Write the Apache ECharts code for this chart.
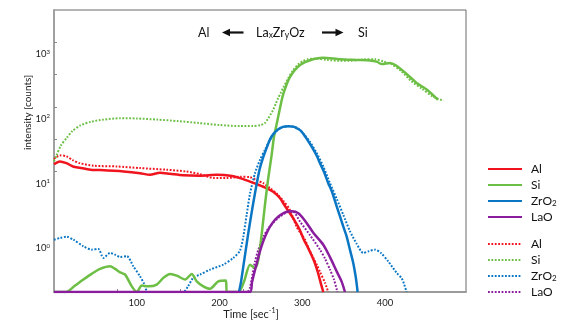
<!DOCTYPE html>
<html><head><meta charset="utf-8">
<script src="https://cdn.jsdelivr.net/npm/echarts@6/dist/echarts.min.js"></script>
<style>html,body{margin:0;padding:0;background:#fff}#c{width:567px;height:322px}</style>
</head><body><div id="c"></div>
<script>
// ---- data (time [s], intensity [counts]) ----
const elements = ['Al', 'Si', 'ZrO2', 'LaO'];
const xLabelValues = [100, 200, 300, 400];
const xTickValues = [76.6, 152.3, 228.5];
const yLabelValues = [1, 10, 100, 1000];
const yTickValues = [15.3, 48.4, 153, 484, 1530];

const alSolid = [[0,19.8],[7,21.9],[15,20.6],[23,18.3],[31,17.5],[44,16.3],[56,16.1],[84,15.3],[104,14.4],[116,13.6],[128,14.6],[140,14.1],[156,13.4],[176,13.2],[197,13.6],[213,13.2],[225,12.1],[237,10.7],[247,9.55],[257,8.43],[265,7.44],[273,5.95],[279,4.53],[285,3.49],[291,2.65],[297,1.93],[302,1.35],[307,1.02],[312,0.74],[315.5,0.58],[319,0.42],[322.7,0.28],[325.5,0.21]];
const siSolid = [[0,0.21],[14.6,0.21],[25.5,0.264],[35.5,0.327],[46,0.404],[55.7,0.478],[67.8,0.524],[73.8,0.478],[79.9,0.423],[86,0.39],[94,0.257],[100,0.21],[106.1,0.264],[114.1,0.257],[124.2,0.273],[132.2,0.347],[140.3,0.4],[148.4,0.376],[158.4,0.327],[166.5,0.4],[172.5,0.307],[180.5,0.257],[188.6,0.235],[198.6,0.307],[207.9,0.315],[208.8,0.21],[222.8,0.21],[229.7,0.304],[236.9,0.556],[243,0.495],[247,0.665],[251.4,1.8],[255,4.69],[258.7,11.4],[263.1,27.7],[265.9,52.6],[269.2,83.4],[273.2,147],[277.2,242],[285.3,443],[297.4,679],[313,832],[325.1,880],[345.6,832],[366.2,811],[382,796],[390,763],[396.4,700],[406.1,729],[413,670],[426.2,493],[438.3,358],[452,274],[464.1,196]];
const zrSolid = [[223.6,0.21],[226.1,0.304],[228.8,0.519],[231.5,0.883],[234.9,1.72],[237.5,2.76],[240.9,5.04],[244.8,9.55],[248.4,16.3],[253,25.8],[257.5,36.8],[261.1,48.1],[265.3,58.5],[271.1,68.6],[276.8,75],[283.2,76.9],[289.2,75.5],[293.7,71.1],[298.5,65.1],[303.4,53.5],[308.2,43.2],[313.4,33.7],[317.9,26.3],[321.5,20.6],[326.3,15.2],[331.5,10.1],[336,7.45],[341.7,4.42],[345.7,3.1],[349.6,2.17],[353.7,1.52],[357.7,0.948],[361.7,0.591],[364.6,0.367],[365.8,0.283],[367,0.21]];
const laSolid = [[0,0.21],[236.9,0.21],[239.3,0.294],[241.8,0.404],[245,0.576],[249,0.899],[253.2,1.31],[257.1,1.72],[261.1,2.15],[267.1,2.75],[273.2,3.23],[281.3,3.66],[287.7,3.72],[295.3,3.47],[303.4,2.66],[313.4,1.73],[325.5,1.13],[333.6,0.726],[341.7,0.438],[347.7,0.304],[351.7,0.21]];

const alDotted = [[0,24],[7,27.2],[15,26.3],[23,22.8],[31,20.6],[48,18.8],[76,18.3],[104,17.3],[136,16.3],[160,15.3],[177,13.9],[193,12.1],[209,12.1],[225,12.7],[237,12.5],[245,11.2],[253,10.1],[261,8.49],[270,6.81],[277,5.41],[285,3.93],[293,2.17],[298.5,1.67],[303.4,1.35],[308,0.98],[313.4,0.71],[318,0.54],[321.5,0.43],[327.6,0.29],[331.5,0.21]];
const siDotted = [[0,22],[3,27],[8,38],[15,50],[22,64],[32,79],[45,90],[60,97],[80,102],[100,101],[125,97],[150,92],[175,86],[200,80],[225,77],[240,77],[250,80],[255,86],[259,102],[262,118],[265,138],[268,170],[271,210],[274,250],[277,300],[283,420],[289,560],[295,690],[301,780],[307,830],[316,850],[330,815],[345,785],[360,790],[375,830],[388,835],[398,770],[408,700],[420,540],[432,380],[445,290],[458,220],[471,190]];
const zrDotted = [[0,1.35],[7.4,1.44],[15.5,1.5],[23.4,1.35],[35.5,1.07],[45.7,0.948],[53.6,0.972],[59.7,0.706],[67.8,0.843],[73.8,0.794],[79.9,0.732],[88,0.753],[95.9,0.524],[104,0.367],[108.9,0.283],[113.7,0.21],[156.3,0.21],[162,0.257],[168.4,0.351],[176.5,0.39],[188.6,0.466],[204.7,0.556],[216.7,0.706],[224.8,0.915],[228.8,1.5],[232.9,3.29],[236.9,6.93],[243,14.5],[249,23.2],[255,33.1],[261.1,47.2],[269.2,65.1],[276.8,75],[285.3,76.4],[293.7,72.4],[301.3,59.5],[309.4,44],[317.5,29.5],[325.5,18.3],[333.6,10.1],[341.7,5.81],[349.6,3.29],[357.7,1.83],[365.8,1.17],[373.8,0.843],[380.7,0.899],[387.9,0.948],[395.2,0.843],[404,0.625],[414.2,0.414],[420.2,0.344],[423,0.283],[426.2,0.21]];
const laDotted = [[0,0.21],[233.4,0.21],[236.9,0.246],[239.9,0.39],[243,0.619],[247,0.948],[253,1.5],[261.1,2.19],[271.1,2.92],[281.3,3.59],[288.9,3.66],[297.4,2.56],[309.4,1.59],[321.5,0.948],[327.6,0.689],[333.6,0.466],[338.4,0.327],[342.6,0.21]];

const colors = {Al: '#f0141e', Si: '#6cbf44', ZrO2: '#0a76c4', LaO: '#8a1c9e'};
const solidData = {Al: alSolid, Si: siSolid, ZrO2: zrSolid, LaO: laSolid};
const dottedData = {Al: alDotted, Si: siDotted, ZrO2: zrDotted, LaO: laDotted};

const FONT = 'Lato, "Open Sans", sans-serif';
const dottedName = n => n + ' ';

const series = [];
elements.forEach(n => series.push({
  name: dottedName(n), type: 'line', data: dottedData[n], symbol: 'none', smooth: 0.25,
  lineStyle: {color: colors[n], width: 2, type: [1.8, 1.6]}, itemStyle: {color: colors[n]}
}));
elements.forEach(n => series.push({
  name: n, type: 'line', data: solidData[n], symbol: 'none', smooth: 0.25,
  lineStyle: {color: colors[n], width: 2.5}, itemStyle: {color: colors[n]}
}));

const legendText = {
  color: '#111', fontSize: 12, fontFamily: FONT, padding: [0, 0, 0, 4],
  rich: {sub: {fontSize: 8, fontFamily: FONT, verticalAlign: 'bottom', color: '#111'}}
};
const legendFmt = name => { const t = name.trim(); return t === 'ZrO2' ? 'ZrO{sub|2}' : t; };
const legendBase = {orient: 'vertical', left: 482, itemWidth: 34, itemHeight: 12, itemGap: 4,
  selectedMode: false, textStyle: legendText, formatter: legendFmt,
  itemStyle: {opacity: 0, borderWidth: 0}};

const chart = echarts.init(document.getElementById('c'), null, {renderer: 'canvas'});
chart.setOption({
  animation: false,
  backgroundColor: '#fff',
  grid: {left: 54, right: 101, top: 10, bottom: 30, show: true, borderColor: '#6a6a6a', borderWidth: 1},
  xAxis: {
    type: 'value', min: 0, max: 498,
    axisLine: {show: true, lineStyle: {color: '#9a9a9a', width: 2}},
    axisTick: {show: true, inside: true, length: 3, lineStyle: {color: '#888'}, customValues: xTickValues},
    axisLabel: {customValues: xLabelValues, color: '#222', fontSize: 9.5, fontFamily: FONT, margin: 6},
    splitLine: {show: false}
  },
  yAxis: {
    type: 'log', logBase: 10, min: 0.21, max: 4800,
    axisLine: {show: true, lineStyle: {color: '#a0a0a0', width: 2}},
    axisTick: {show: true, inside: true, length: 3, lineStyle: {color: '#888'}, customValues: yTickValues},
    axisLabel: {
      customValues: yLabelValues, color: '#222', fontSize: 9.5, fontFamily: FONT, margin: 4, lineHeight: 11,
      formatter: v => '10{sup|' + Math.round(Math.log10(v)) + '}',
      rich: {sup: {fontSize: 6, fontFamily: FONT, verticalAlign: 'top', color: '#222'}}
    },
    splitLine: {show: false}
  },
  legend: [
    Object.assign({}, legendBase, {top: 158, data: elements.slice()}),
    Object.assign({}, legendBase, {top: 233, data: elements.map(dottedName)})
  ],
  graphic: [
    {type: 'text', x: 198, y: 32.5, style: {text: 'Al', fontSize: 12.5, fontFamily: FONT, fill: '#111', verticalAlign: 'middle'}},
    {type: 'line', shape: {x1: 228, y1: 32.5, x2: 243.5, y2: 32.5}, style: {stroke: '#111', lineWidth: 2.2}},
    {type: 'polygon', shape: {points: [[222, 32.5], [230, 28.8], [230, 36.2]]}, style: {fill: '#111'}},
    {type: 'text', x: 256, y: 32.5, style: {text: 'La{s|x}Zr{s|y}Oz', fontSize: 12.5, fontFamily: FONT, fill: '#111',
      verticalAlign: 'middle', lineHeight: 14,
      rich: {s: {fontSize: 8.5, fontFamily: FONT, fill: '#111', verticalAlign: 'bottom'}}}},
    {type: 'line', shape: {x1: 322, y1: 32.5, x2: 337.5, y2: 32.5}, style: {stroke: '#111', lineWidth: 2.2}},
    {type: 'polygon', shape: {points: [[343.5, 32.5], [335.5, 28.8], [335.5, 36.2]]}, style: {fill: '#111'}},
    {type: 'text', x: 358, y: 32.5, style: {text: 'Si', fontSize: 12.5, fontFamily: FONT, fill: '#111', verticalAlign: 'middle'}},
    {type: 'text', x: 28, y: 112.5, rotation: Math.PI / 2, style: {text: 'intensity [counts]', fontSize: 10, fontFamily: FONT,
      fill: '#222', align: 'center', verticalAlign: 'middle'}},
    {type: 'text', x: 251, y: 314, style: {text: 'Time [sec{sup|-1}]', fontSize: 11, fontFamily: FONT, fill: '#222',
      align: 'center', verticalAlign: 'middle', lineHeight: 13,
      rich: {sup: {fontSize: 7, fontFamily: FONT, fill: '#222', verticalAlign: 'top'}}}}
  ],
  series: series
});
</script></body></html>
